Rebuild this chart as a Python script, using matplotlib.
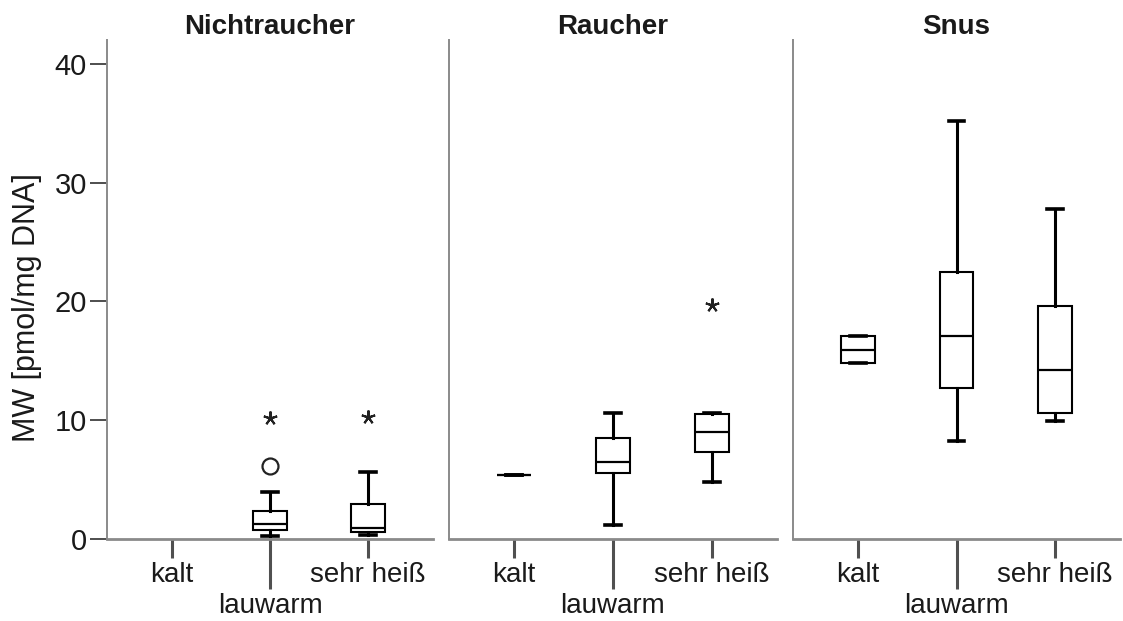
import matplotlib
matplotlib.use("Agg")
import matplotlib.pyplot as plt

plt.rcParams['font.family'] = ['Liberation Sans', 'DejaVu Sans']

# ---------------- data ----------------
panels = ["Nichtraucher", "Raucher", "Snus"]
categories = ["kalt", "lauwarm", "sehr heiß"]

# per panel: [kalt, lauwarm, sehr heiß]; None = no data
whislo = [[None, 0.25, 0.34], [5.4, 1.18, 4.77], [14.8, 8.27, 9.97]]
q1     = [[None, 0.76, 0.62], [5.4, 5.53, 7.36], [14.8, 12.7, 10.64]]
median = [[None, 1.26, 0.90], [5.4, 6.46, 9.04], [15.94, 17.1, 14.27]]
q3     = [[None, 2.38, 2.92], [5.4, 8.48, 10.5], [17.1, 22.5, 19.6]]
whishi = [[None, 3.98, 5.67], [5.4, 10.64, 10.58], [17.1, 35.2, 27.8]]

# outliers (circle) and extreme values (asterisk): lists per category
outliers = [[[], [6.15], []], [[], [], []], [[], [], []]]
extremes = [[[], [10.2], [10.3]], [[], [], [19.7]], [[], [], []]]

yticks = [0, 10, 20, 30, 40]

# ---------------- figure ----------------
W, H = 1123, 621
fig = plt.figure(figsize=(W / 100, H / 100), dpi=100)

ax_px = [(107, 433), (449, 777), (793, 1120)]
top_px, bot_px = 40, 539

spine_col = "#8a8a8a"
tick_col = "#505050"
text_col = "#1a1a1a"

for p, (x0, x1) in enumerate(ax_px):
    ax = fig.add_axes([x0 / W, 1 - bot_px / H, (x1 - x0) / W, (bot_px - top_px) / H])
    stats = []
    pos = []
    for i in range(3):
        if whislo[p][i] is None:
            continue
        stats.append(dict(whislo=whislo[p][i], q1=q1[p][i], med=median[p][i],
                          q3=q3[p][i], whishi=whishi[p][i], fliers=[]))
        pos.append(i)
    ax.bxp(stats, positions=pos, widths=0.345, capwidths=0.16, showfliers=False,
           patch_artist=True,
           boxprops=dict(facecolor="white", edgecolor="black", linewidth=1.5),
           whiskerprops=dict(color="black", linewidth=2.2),
           capprops=dict(color="black", linewidth=2.6),
           medianprops=dict(color="black", linewidth=1.6),
           manage_ticks=False, zorder=3)
    for i in range(3):
        if outliers[p][i]:
            ax.plot([i] * len(outliers[p][i]), outliers[p][i], linestyle="none",
                    marker="o", markersize=11.5, markerfacecolor="white",
                    markeredgecolor="#222222", markeredgewidth=1.6, zorder=4, clip_on=False)
        if extremes[p][i]:
            ax.plot([i] * len(extremes[p][i]), extremes[p][i], linestyle="none",
                    marker=(5, 2, 0), markersize=10, markeredgecolor="#222222",
                    markeredgewidth=1.5, zorder=4, clip_on=False)

    ax.set_xlim(-0.66, 2.66)
    ax.set_ylim(0, 42.02)
    for s in ("top", "right"):
        ax.spines[s].set_visible(False)
    ax.spines["left"].set_color(spine_col)
    ax.spines["left"].set_linewidth(1.4)
    ax.spines["bottom"].set_color(spine_col)
    ax.spines["bottom"].set_linewidth(2.0)

    ax.set_xticks([0, 2])
    ax.set_xticklabels([categories[0], categories[2]])
    ax.set_xticks([1], minor=True)
    ax.set_xticklabels([categories[1]], minor=True)
    ax.tick_params(axis="x", which="major", length=13.7, width=2.2, color=tick_col,
                   pad=3, labelsize=20, labelcolor=text_col)
    ax.tick_params(axis="x", which="minor", length=36, width=2.2, color=tick_col,
                   pad=3, labelsize=20, labelcolor=text_col)

    if p == 0:
        ax.set_yticks(yticks)
        ax.tick_params(axis="y", length=12.5, width=1.3, color="#404040", pad=2,
                       labelsize=21, labelcolor=text_col)
    else:
        ax.set_yticks([])

    ax.set_title(panels[p], fontsize=20, fontweight="bold", color=text_col, pad=4)

fig.text(27 / W, 1 - 308 / H, "MW [pmol/mg DNA]", rotation=90, ha="center", va="center",
         fontsize=22, color=text_col)

fig.savefig("out.png", dpi=100)
